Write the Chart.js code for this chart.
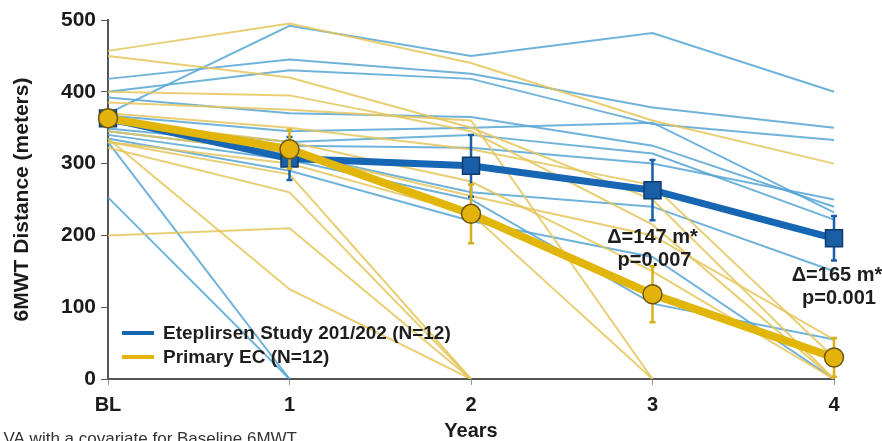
<!DOCTYPE html>
<html>
<head>
<meta charset="utf-8">
<script src="https://cdn.jsdelivr.net/npm/chart.js@4.4.1/dist/chart.umd.min.js"></script>
<style>
  html, body { margin: 0; padding: 0; background: #fff; }
  #wrap { width: 882px; height: 441px; position: relative; }
</style>
</head>
<body>
<div id="wrap"><canvas id="chart"></canvas></div>
<script>
// categories
const years = ["BL", "1", "2", "3", "4"];
const yTicks = [0, 100, 200, 300, 400, 500];

// group means and error bars
const etepMean = [363, 307, 297, 263, 196];
const etepErr = [0, 30, 43, 42, 31];
const ecMean = [363, 320, 230, 118, 30];
const ecErr = [0, 27, 41, 39, 27];

// individual patients, Eteplirsen Study 201/202
const etepPatients = [
  [370, 492, 450, 482, 400],
  [418, 445, 425, 378, 350],
  [400, 430, 418, 355, 333],
  [392, 370, 365, 325, 240],
  [367, 345, 350, 357, 232],
  [357, 330, 340, 314, 222],
  [349, 325, 322, 300, 250],
  [345, 315, 260, 240, 150],
  [340, 305, 250, 105, 55],
  [253, 0, null, null, null],
  [330, 0, null, null, null],
  [335, 290, 220, 170, 0]
];

// individual patients, Primary EC
const ecPatients = [
  [457, 495, 440, 360, 300],
  [450, 420, 350, 250, 0],
  [400, 395, 345, 215, 0],
  [385, 375, 360, 0, null],
  [370, 350, 320, 270, 30],
  [330, 300, 230, 0, null],
  [330, 285, 0, null, null],
  [322, 260, 0, null, null],
  [200, 210, 0, null, null],
  [335, 125, 0, null, null],
  [360, 330, 275, 150, 0],
  [345, 315, 255, 200, 55]
];

const legendLabels = ["Eteplirsen Study 201/202 (N=12)", "Primary EC (N=12)"];
const notes = [["\u0394=147 m*", "p=0.007"], ["\u0394=165 m*", "p=0.001"]];
const footnote = "VA with a covariate for Baseline 6MWT";

const FONT = "'Liberation Sans', Arial, sans-serif";
const BLUE = "#1766b4";
const GOLD = "#e2b509";

const datasets = [];
etepPatients.forEach(p => datasets.push({
  data: p, borderColor: "rgba(86,165,212,0.85)", borderWidth: 2,
  pointRadius: 0, order: 10, spanGaps: false
}));
ecPatients.forEach(p => datasets.push({
  data: p, borderColor: "rgba(228,198,92,0.85)", borderWidth: 2,
  pointRadius: 0, order: 9, spanGaps: false
}));
datasets.push({
  data: etepMean, borderColor: BLUE, borderWidth: 7, order: 2,
  pointStyle: "rect", pointRadius: 12, pointBackgroundColor: "#1a5ea6",
  pointBorderColor: "#0f3a6c", pointBorderWidth: 1.5, errors: etepErr, errColor: "#1a5ea6"
});
datasets.push({
  data: ecMean, borderColor: GOLD, borderWidth: 8, order: 1,
  pointStyle: "circle", pointRadius: 9.5, pointBackgroundColor: "#e3b30b",
  pointBorderColor: "#6a5614", pointBorderWidth: 1.5, errors: ecErr, errColor: "#d8b01c"
});

// error bars under the markers of each mean line
const errorBars = {
  id: "errorBars",
  beforeDatasetDraw(chart, args) {
    const ds = chart.data.datasets[args.index];
    if (!ds.errors) return;
    const { ctx, scales: { x, y } } = chart;
    ctx.save();
    ctx.strokeStyle = ds.errColor;
    ctx.lineWidth = 2.5;
    ds.data.forEach((v, i) => {
      const e = ds.errors[i];
      if (!e) return;
      const px = x.getPixelForValue(i);
      const top = y.getPixelForValue(v + e), bot = y.getPixelForValue(Math.max(0, v - e));
      ctx.beginPath();
      ctx.moveTo(px, top); ctx.lineTo(px, bot);
      ctx.moveTo(px - 3, top); ctx.lineTo(px + 3, top);
      ctx.moveTo(px - 3, bot); ctx.lineTo(px + 3, bot);
      ctx.stroke();
    });
    ctx.restore();
  }
};

// legend, annotations and footnote
const extras = {
  id: "extras",
  afterDraw(chart) {
    const { ctx, scales: { x, y } } = chart;
    ctx.save();
    // legend inside the plot
    const lx = 122, ly = [333, 357];
    [BLUE, GOLD].forEach((c, i) => {
      ctx.strokeStyle = c; ctx.lineWidth = 4;
      ctx.beginPath(); ctx.moveTo(lx, ly[i]); ctx.lineTo(lx + 32, ly[i]); ctx.stroke();
      ctx.fillStyle = "#1e1e1e";
      ctx.font = "bold 19px " + FONT;
      ctx.textBaseline = "middle"; ctx.textAlign = "left";
      ctx.fillText(legendLabels[i], lx + 41, ly[i] + 1);
    });
    // annotations
    ctx.font = "bold 20px " + FONT;
    ctx.textAlign = "center";
    const spots = [[3, 197, 0], [4, 144, 3]];
    notes.forEach((lines, i) => {
      const px = x.getPixelForValue(spots[i][0]) + spots[i][2];
      const py = y.getPixelForValue(spots[i][1]);
      ctx.fillText(lines[0], px, py);
      ctx.fillText(lines[1], px + 2, py + 23);
    });
    // footnote
    ctx.font = "17px " + FONT;
    ctx.fillStyle = "#333";
    ctx.textAlign = "right"; ctx.textBaseline = "alphabetic";
    ctx.fillText(footnote, 297, 444);
    ctx.restore();
  }
};

new Chart(document.getElementById("chart"), {
  type: "line",
  data: { labels: years, datasets: datasets },
  plugins: [errorBars, extras],
  options: {
    responsive: true,
    maintainAspectRatio: false,
    animation: false,
    devicePixelRatio: 1,
    layout: { padding: { top: 20, right: 48, left: 0, bottom: 0 } },
    plugins: { legend: { display: false }, tooltip: { enabled: false } },
    elements: { line: { tension: 0 } },
    scales: {
      x: {
        type: "category",
        offset: false,
        border: { color: "#555", width: 2 },
        grid: { drawOnChartArea: false, tickLength: 6, color: "#999" },
        ticks: { color: "#1a1a1a", font: { family: FONT, weight: "bold", size: 20 }, padding: 8 },
        title: { display: true, text: "Years", color: "#1a1a1a", font: { family: FONT, weight: "bold", size: 20 }, padding: { top: 4, bottom: -2 } },
        afterFit(s) { s.height = 62; }
      },
      y: {
        min: 0, max: 500,
        afterBuildTicks(s) { s.ticks = yTicks.map(v => ({ value: v })); },
        border: { color: "#555", width: 2 },
        grid: { drawOnChartArea: false, tickLength: 7, color: "#555" },
        ticks: { color: "#1a1a1a", font: { family: FONT, weight: "bold", size: 21 }, padding: 5 },
        title: { display: true, text: "6MWT Distance (meters)", color: "#1a1a1a", font: { family: FONT, weight: "bold", size: 21 }, padding: { top: 10, bottom: 4 } },
        afterFit(s) { s.width = 108; }
      }
    }
  }
});
</script>
</body>
</html>
